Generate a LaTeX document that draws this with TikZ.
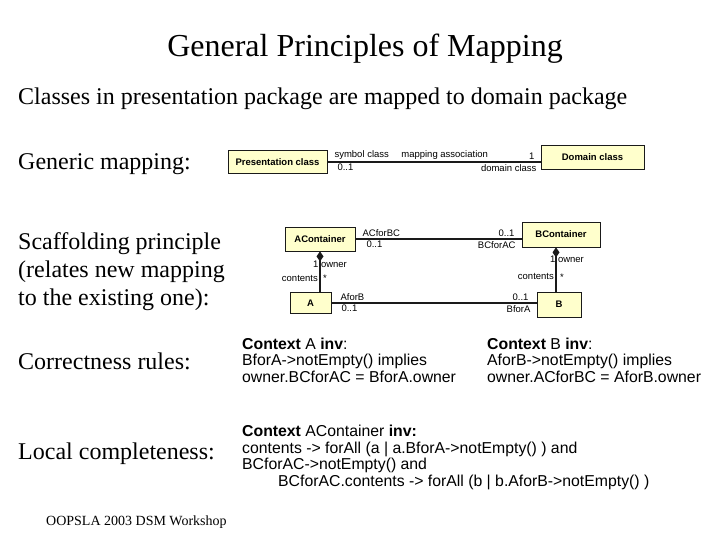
\documentclass[tikz,border=0pt]{standalone}
\usepackage{fontspec}
\setmainfont{Liberation Serif}
\setsansfont{Liberation Sans}
\usetikzlibrary{arrows.meta, positioning}
\definecolor{UMLFill}{HTML}{FFFFCC}
\definecolor{UMLInk}{HTML}{1A1A1A}

\begin{document}
\begin{tikzpicture}[x=1pt, y=-1pt,
  heading/.style={anchor=base west, inner sep=0pt, align=left,
                  font=\fontsize{24}{28}\selectfont},
  cls/.style={rectangle, draw=UMLInk, line width=0.8pt, fill=UMLFill, inner sep=0pt,
              font=\fontsize{9.5}{11}\selectfont\sffamily\bfseries},
  assoc/.style={draw=UMLInk, line width=1.3pt},
  comp/.style={assoc, {Diamond[length=10pt, width=7pt]}-},
  role/.style={font=\fontsize{9.5}{11}\selectfont\sffamily, inner sep=1.5pt},
  ocl/.style={anchor=base west, inner sep=0pt, align=left,
              font=\fontsize{15.8}{16.5}\selectfont\sffamily},
]
\useasboundingbox (0,0) rectangle (720,540);

% slide texts (base = last line)
\node[anchor=base, inner sep=0pt, font=\fontsize{32}{36}\selectfont] (title) at (365,57)
  {General Principles of Mapping};
\node[heading] (intro) at (18,105) {Classes in presentation package are mapped to domain package};
\node[heading] (generic) at (18,170) {Generic mapping:};
\node[heading] (scaffold) at (18,305) {Scaffolding principle\\(relates new mapping\\to the existing one):};
\node[heading] (correct) at (18,369) {Correctness rules:};
\node[heading] (local) at (18,459) {Local completeness:};
\node[anchor=base west, inner sep=0pt, font=\fontsize{14}{16}\selectfont] (footer) at (46,525)
  {OOPSLA 2003 DSM Workshop};

% generic mapping
\node[cls, minimum width=99pt, minimum height=23pt] (pres) at (277.5,162) {Presentation class};
\node[cls, minimum width=103pt, minimum height=24pt] (dom) at (592.5,157) {Domain class};
\draw[assoc] (pres.east) -- (pres.east -| dom.west)
  node[role, pos=0, above right, xshift=5pt] {symbol class}
  node[role, pos=0.55, above] {mapping association}
  node[role, pos=1, above left, xshift=-4pt] {1}
  node[role, pos=0, below right, xshift=8pt] {0..1}
  node[role, pos=1, below left, xshift=-2pt] {domain class};

% scaffolding principle
\node[cls, minimum width=70pt, minimum height=24pt] (acont) at (320,239) {AContainer};
\node[cls, minimum width=78pt, minimum height=25pt] (bcont) at (561,234.5) {BContainer};
\node[cls, minimum width=41pt, minimum height=21pt] (aa) at (310.5,303) {A};
\node[cls, minimum width=44pt, minimum height=25pt] (bb) at (559,304.5) {B};
\draw[assoc] (acont.east) -- (acont.east -| bcont.west)
  node[role, pos=0, above right, xshift=5pt] {ACforBC}
  node[role, pos=0, below right, xshift=9pt] {0..1}
  node[role, pos=1, above left, xshift=-5pt] {0..1}
  node[role, pos=1, below left, xshift=-4pt] {BCforAC};
\draw[assoc] (aa.east) -- (aa.east -| bb.west)
  node[role, pos=0, above right, xshift=7pt] {AforB}
  node[role, pos=0, below right, xshift=8pt] {0..1}
  node[role, pos=1, above left, xshift=-6pt] {0..1}
  node[role, pos=1, below left, xshift=-4pt] {BforA};
\draw[comp] (acont.south) -- (acont.south |- aa.north)
  node[role, pos=0.31, xshift=10pt] {1 owner}
  node[role, pos=0.67, left] {contents}
  node[role, pos=0.66, right, xshift=1pt] {*};
\draw[comp] ([xshift=-5pt]bcont.south) -- ([xshift=-5pt]bcont.south |- bb.north)
  node[role, pos=0.27, xshift=11pt] {1 owner}
  node[role, pos=0.66, left] {contents}
  node[role, pos=0.68, right, xshift=2pt] {*};

% OCL constraints
\node[ocl] (ctxa) at (242,382)
  {\textbf{Context} A \textbf{inv}:\\BforA->notEmpty() implies\\owner.BCforAC = BforA.owner};
\node[ocl] (ctxb) at (487,382)
  {\textbf{Context} B \textbf{inv}:\\AforB->notEmpty() implies\\owner.ACforBC = AforB.owner};
\node[ocl] (ctxac) at (242,486)
  {\textbf{Context} AContainer \textbf{inv:}\\
   contents -> forAll (a | a.BforA->notEmpty() ) and\\
   BCforAC->notEmpty() and\\
   \hspace*{36pt}BCforAC.contents -> forAll (b | b.AforB->notEmpty() )};
\end{tikzpicture}
\end{document}
